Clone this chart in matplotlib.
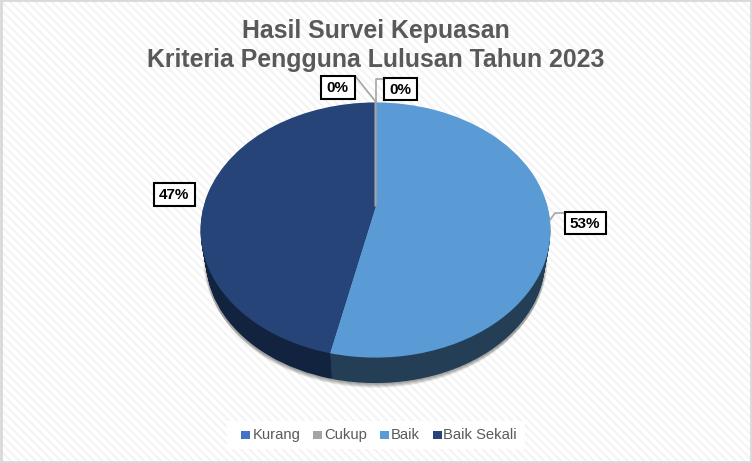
import matplotlib
matplotlib.use("Agg")
import matplotlib.pyplot as plt
import numpy as np
from matplotlib.patches import Rectangle
from matplotlib.transforms import Transform

categories = ["Kurang", "Cukup", "Baik", "Baik Sekali"]
values = [0, 0, 53.49, 46.51]
value_labels = ["0%", "0%", "53%", "47%"]
colors = ["#4472c4", "#a5a5a5", "#5b9bd5", "#264478"]
side_colors = ["#2a4a80", "#666666", "#243f55", "#12233f"]
title_lines = ["Hasil Survei Kepuasan", "Kriteria Pengguna Lulusan Tahun 2023"]


class TiltedPie(Transform):
    #pie is drawn on a unit circle, this maps it to the tilted disc in pixels
    input_dims = 2
    output_dims = 2
    has_inverse = False

    def __init__(self, drop=0, shrink=1.0):
        super().__init__()
        self.drop = drop
        self.shrink = shrink

    def transform_non_affine(self, pts):
        pts = np.asarray(pts, dtype=float)
        u = pts[:, 0] * self.shrink
        v = pts[:, 1] * self.shrink
        d = 1 + 0.1843 * v
        x = 375.5 + 172 * u / d
        y = self.drop + (207.5 - 85 * v) / d
        return np.column_stack([x, y])


plt.rcParams["hatch.linewidth"] = 1.6
plt.rcParams["hatch.color"] = "#f4f4f4"
plt.rcParams["font.family"] = ["Liberation Sans", "DejaVu Sans"]

fig = plt.figure(figsize=(7.52, 4.64), dpi=100)
ax = fig.add_axes([0, 0, 1, 1])

#background with the faint diagonal stripes
fig.patch.set_facecolor("white")
ax.add_patch(Rectangle((0, 0), 752, 464, fc="white", ec="#f4f4f4", hatch="\\\\\\\\", lw=0, zorder=0))


def draw_pie(cols, drop=0, shrink=1.0, z=2, alpha=None):
    wedges, _ = ax.pie(values, colors=cols, startangle=90, counterclock=False, radius=1)
    for w in wedges:
        w.set_transform(TiltedPie(drop, shrink) + ax.transData)
        w.set_zorder(z)
        w.set_linewidth(0)
        if alpha:
            w.set_alpha(alpha)
    return wedges


#soft shadow below the disc
for i in range(8):
    draw_pie(["#000000"] * 4, drop=29 + i * 1.1, shrink=0.965 + (7 - i) * 0.003, z=1, alpha=0.05)

#wall of the disc, bottom layer first
depth = 31
for d in range(depth, 0, -1):
    draw_pie(side_colors, drop=d, shrink=1.0 - 0.03 * d / depth, z=2 + (depth - d) * 0.001)

top = draw_pie(colors, z=3)
#the zero slices only show as a grey line on the top face
top[1].set_edgecolor(colors[1])
top[1].set_linewidth(1.5)
top[1].set_zorder(3.5)

ax.set_aspect("auto")
ax.set_xlim(0, 752)
ax.set_ylim(464, 0)
ax.axis("off")

#title
for line, y in zip(title_lines, [31, 60]):
    ax.text(375.5, y, line, ha="center", va="center", fontsize=17.9, fontweight="bold", color="#595959", zorder=6)

#leader lines
ax.plot([356, 376], [78, 103], color="#a5a5a5", lw=1.2, zorder=4)
ax.plot([376, 376, 383], [103, 80, 80], color="#a5a5a5", lw=1.2, zorder=4)
ax.plot([550, 555, 564], [221, 214, 214], color="#a5a5a5", lw=1.2, zorder=4)

#value labels in black boxes
boxes = [(320.5, 76.5, 34, 23), (383.5, 78.5, 33, 22), (564.5, 212.5, 41, 22), (153.5, 183.5, 41, 23)]
for txt, (x, y, w, h) in zip(value_labels, boxes):
    ax.add_patch(Rectangle((x, y), w, h, fc="white", ec="black", lw=1.5, zorder=7))
    ax.text(x + w / 2, y + h / 2 + 0.5, txt, ha="center", va="center", fontsize=11, fontweight="bold", color="black", zorder=8)

#legend
ax.add_patch(Rectangle((227, 422), 298, 28, fc="white", ec="none", zorder=5))
leg_squares = [241, 313, 380, 433]
leg_text = [253, 324, 391, 443]
for i, name in enumerate(categories):
    ax.add_patch(Rectangle((leg_squares[i], 432), 9, 8, fc=colors[i], ec="none", zorder=6))
    ax.text(leg_text[i], 435.5, name, ha="left", va="center", fontsize=10.6, color="#595959", zorder=6)

#chart border
ax.add_patch(Rectangle((1, 1), 750, 462, fc="none", ec="#d9d9d9", lw=2, zorder=9))

fig.savefig("out.png", dpi=100)
